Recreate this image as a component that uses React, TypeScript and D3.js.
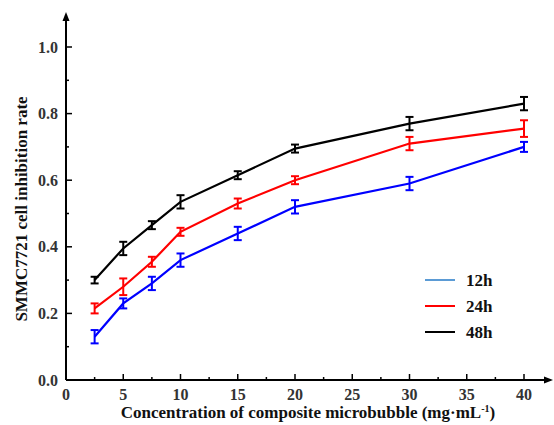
import * as d3 from 'd3';

const conc = [2.5, 5, 7.5, 10, 15, 20, 30, 40];
const rate12 = [0.13, 0.23, 0.29, 0.36, 0.44, 0.52, 0.59, 0.70];
const err12 = [0.02, 0.015, 0.02, 0.02, 0.02, 0.02, 0.02, 0.015];
const rate24 = [0.215, 0.28, 0.355, 0.445, 0.53, 0.60, 0.71, 0.755];
const err24 = [0.015, 0.025, 0.015, 0.012, 0.015, 0.012, 0.02, 0.025];
const rate48 = [0.30, 0.395, 0.465, 0.535, 0.615, 0.695, 0.77, 0.83];
const err48 = [0.01, 0.02, 0.012, 0.02, 0.012, 0.012, 0.02, 0.02];
const xTicks = [0, 5, 10, 15, 20, 25, 30, 35, 40];
const yTicks = [0, 0.2, 0.4, 0.6, 0.8, 1.0];

const series = [
  { name: '12h', values: rate12, errs: err12, color: '#0000ff', legend: '#5b9bd5' },
  { name: '24h', values: rate24, errs: err24, color: '#ff0000', legend: '#ff0000' },
  { name: '48h', values: rate48, errs: err48, color: '#000000', legend: '#000000' },
];

const W = 554;
const H = 425;
const font = '"Liberation Serif", "Times New Roman", serif';

export default function App() {
  const x = d3.scaleLinear().domain([0, 40]).range([66, 524]);
  const y = d3.scaleLinear().domain([0, 1]).range([380, 47]);
  const line = d3.line<number>().x((_, i) => x(conc[i])).y(d => y(d));
  const minorX = d3.range(2.5, 42, 5);
  const minorY = d3.range(0.1, 1.01, 0.2);
  const x0 = x(0);
  const y0 = y(0);

  return (
    <svg width={W} height={H} style={{ position: 'absolute', left: 0, top: 0, background: '#fff' }}>
      {/* axes */}
      <line x1={x0} x2={548} y1={y0} y2={y0} stroke="#000" strokeWidth={2} />
      <path d={`M553,${y0} L544,${y0 - 3.5} L544,${y0 + 3.5} Z`} fill="#000" />
      <line x1={x0} x2={x0} y1={y0} y2={18} stroke="#000" strokeWidth={2} />
      <path d={`M${x0},12 L${x0 - 3.5},21 L${x0 + 3.5},21 Z`} fill="#000" />

      {xTicks.map(t => (
        <g key={'x' + t}>
          <line x1={x(t)} x2={x(t)} y1={y0} y2={y0 - 6} stroke="#000" strokeWidth={1.5} />
          <text x={x(t)} y={y0 + 20} textAnchor="middle" fontFamily={font} fontWeight="bold" fontSize={16} fill="#333">
            {t}
          </text>
        </g>
      ))}
      {minorX.map(t => (
        <line key={'mx' + t} x1={x(t)} x2={x(t)} y1={y0} y2={y0 - 3} stroke="#000" strokeWidth={1.5} />
      ))}
      {yTicks.map(t => (
        <g key={'y' + t}>
          <line x1={x0} x2={x0 + 6} y1={y(t)} y2={y(t)} stroke="#000" strokeWidth={1.5} />
          <text x={x0 - 8} y={y(t) + 5.5} textAnchor="end" fontFamily={font} fontWeight="bold" fontSize={16} fill="#333">
            {t.toFixed(1)}
          </text>
        </g>
      ))}
      {minorY.map(t => (
        <line key={'my' + t} x1={x0} x2={x0 + 3} y1={y(t)} y2={y(t)} stroke="#000" strokeWidth={1.5} />
      ))}

      {/* series */}
      {series.map(s => (
        <g key={s.name}>
          <path d={line(s.values) || ''} fill="none" stroke={s.color} strokeWidth={2.2} />
          {s.values.map((v, i) => {
            const cx = x(conc[i]);
            const top = y(v + s.errs[i]);
            const bot = y(v - s.errs[i]);
            return (
              <g key={i} stroke={s.color} strokeWidth={2}>
                <line x1={cx} x2={cx} y1={top} y2={bot} />
                <line x1={cx - 4} x2={cx + 4} y1={top} y2={top} />
                <line x1={cx - 4} x2={cx + 4} y1={bot} y2={bot} />
              </g>
            );
          })}
        </g>
      ))}

      {/* legend */}
      {series.map((s, i) => (
        <g key={'lg' + s.name} transform={`translate(425,${280 + i * 26})`}>
          <line x1={0} x2={30} y1={0} y2={0} stroke={s.legend} strokeWidth={2} />
          <text x={41} y={6} fontFamily={font} fontWeight="bold" fontSize={17} fill="#111">
            {s.name}
          </text>
        </g>
      ))}

      {/* titles */}
      <text x={308} y={418} textAnchor="middle" fontFamily={font} fontWeight="bold" fontSize={17} fill="#111">
        Concentration of composite microbubble (mg·mL
        <tspan dy={-6} fontSize={10}>-1</tspan>
        <tspan dy={6}>)</tspan>
      </text>
      <text
        transform={`translate(27,209) rotate(-90)`}
        textAnchor="middle"
        fontFamily={font}
        fontWeight="bold"
        fontSize={17}
        fill="#111"
      >
        SMMC7721 cell inhibition rate
      </text>
    </svg>
  );
}
